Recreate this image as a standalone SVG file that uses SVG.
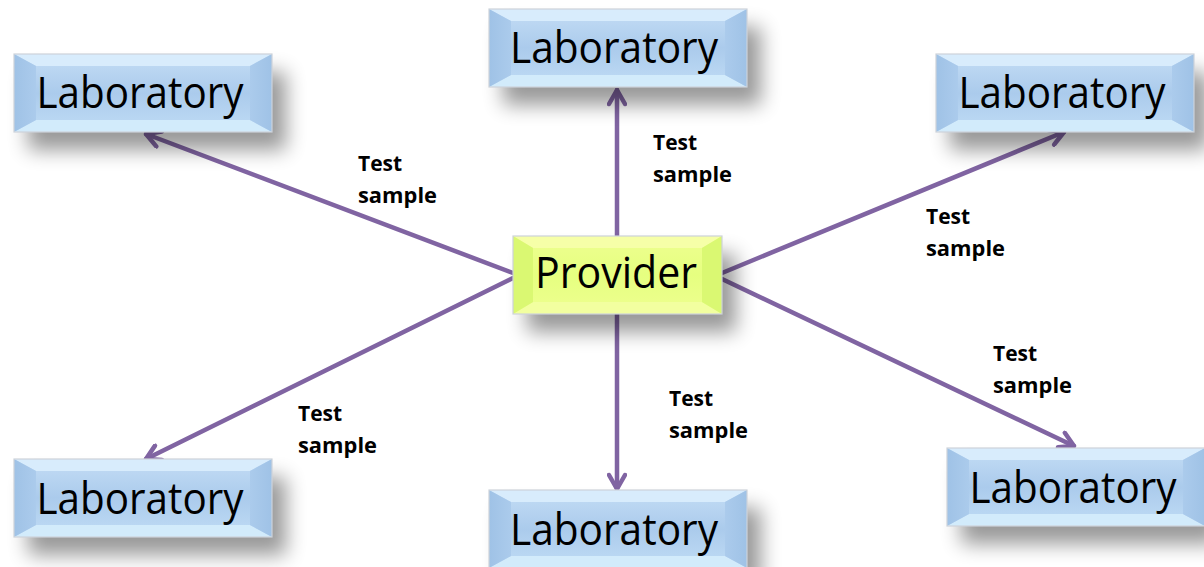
<svg xmlns="http://www.w3.org/2000/svg" width="1204" height="567" viewBox="0 0 1204 567">
<style>
.lab{font-family:"Open Sans","Noto Sans","Liberation Sans",sans-serif;font-size:43px;fill:#000;text-anchor:middle}
.lbl{font-family:"Open Sans","Noto Sans","Liberation Sans",sans-serif;font-size:21px;font-weight:bold;fill:#000}
.conn{stroke:#8064a2;stroke-width:4.5;fill:none;stroke-linecap:round}
.edge{fill:none;stroke:#cdd3da;stroke-width:1.2}
</style>
<defs>
<filter id="sh" x="-30%" y="-40%" width="170%" height="220%">
<feGaussianBlur stdDeviation="10"/>
</filter>
<linearGradient id="gb" x1="0" y1="0" x2="0" y2="1">
<stop offset="0" stop-color="#c4ddf5"/>
<stop offset="0.5" stop-color="#abcbec"/>
<stop offset="1" stop-color="#c0dcf5"/>
</linearGradient>
<linearGradient id="gy" x1="0" y1="0" x2="0" y2="1">
<stop offset="0" stop-color="#eeff90"/>
<stop offset="0.5" stop-color="#e6ff80"/>
<stop offset="1" stop-color="#eeff90"/>
</linearGradient>
<linearGradient id="gbl" x1="0" y1="0" x2="1" y2="0">
<stop offset="0" stop-color="#9fc2e6"/>
<stop offset="1" stop-color="#abcbec"/>
</linearGradient>
<linearGradient id="gbr" x1="1" y1="0" x2="0" y2="0">
<stop offset="0" stop-color="#9fc2e6"/>
<stop offset="1" stop-color="#abcbec"/>
</linearGradient>
<marker id="ah" viewBox="0 0 20 20" refX="18" refY="10" markerWidth="20" markerHeight="20" markerUnits="userSpaceOnUse" orient="auto">
<path d="M4,2 L18,10 L4,18" fill="none" stroke="#8064a2" stroke-width="4.5" stroke-linecap="round" stroke-linejoin="round"/>
</marker>
<g id="bluebox">
<rect x="14" y="18" width="258" height="78" fill="#000" opacity="0.4" filter="url(#sh)"/>
<rect x="0" y="0" width="258" height="78" fill="url(#gb)"/>
<polygon points="0,0 258,0 236,12 22,12" fill="#d8ecfc"/>
<polygon points="0,78 258,78 236,66 22,66" fill="#d2ebfb"/>
<polygon points="0,0 22,12 22,66 0,78" fill="url(#gbl)"/>
<polygon points="258,0 236,12 236,66 258,78" fill="url(#gbr)"/>
<rect x="0" y="0" width="258" height="78" class="edge"/>
</g>
</defs>

<g id="connectors">
<line class="conn" x1="617" y1="236" x2="617" y2="90" marker-end="url(#ah)"/>
<line class="conn" x1="617" y1="313" x2="617" y2="489" marker-end="url(#ah)"/>
<line class="conn" x1="513" y1="273" x2="146" y2="134" marker-end="url(#ah)"/>
<line class="conn" x1="513" y1="278" x2="146" y2="459" marker-end="url(#ah)"/>
<line class="conn" x1="722" y1="273" x2="1064" y2="132" marker-end="url(#ah)"/>
<line class="conn" x1="722" y1="279" x2="1074" y2="446" marker-end="url(#ah)"/>
</g>

<g id="lab-top"><use href="#bluebox" x="489" y="9"/><text class="lab" x="614" y="63" textLength="208" lengthAdjust="spacingAndGlyphs">Laboratory</text></g>
<g id="lab-topleft"><use href="#bluebox" x="14" y="54"/><text class="lab" x="140" y="108" textLength="207" lengthAdjust="spacingAndGlyphs">Laboratory</text></g>
<g id="lab-topright"><use href="#bluebox" x="936" y="54"/><text class="lab" x="1062" y="108" textLength="207" lengthAdjust="spacingAndGlyphs">Laboratory</text></g>
<g id="lab-bottomleft"><use href="#bluebox" x="14" y="459"/><text class="lab" x="140" y="514" textLength="207" lengthAdjust="spacingAndGlyphs">Laboratory</text></g>
<g id="lab-bottom"><use href="#bluebox" x="489" y="490"/><text class="lab" x="614" y="545" textLength="208" lengthAdjust="spacingAndGlyphs">Laboratory</text></g>
<g id="lab-bottomright"><use href="#bluebox" x="947" y="448"/><text class="lab" x="1073" y="503" textLength="207" lengthAdjust="spacingAndGlyphs">Laboratory</text></g>

<g id="provider">
<rect x="527" y="254" width="209" height="78" fill="#000" opacity="0.4" filter="url(#sh)"/>
<rect x="513" y="236" width="209" height="78" fill="url(#gy)"/>
<polygon points="513,236 722,236 702,248 533,248" fill="#f6ffa8"/>
<polygon points="513,314 722,314 702,302 533,302" fill="#f2ffa0"/>
<polygon points="513,236 533,248 533,302 513,314" fill="#daf872"/>
<polygon points="722,236 702,248 702,302 722,314" fill="#daf872"/>
<rect x="513" y="236" width="209" height="78" class="edge"/>
<text class="lab" x="616" y="288" font-size="40" textLength="162" lengthAdjust="spacingAndGlyphs">Provider</text>
</g>

<g id="labels">
<text class="lbl" x="358" y="171">Test</text><text class="lbl" x="358" y="203" textLength="79" lengthAdjust="spacingAndGlyphs">sample</text>
<text class="lbl" x="653" y="150">Test</text><text class="lbl" x="653" y="182" textLength="79" lengthAdjust="spacingAndGlyphs">sample</text>
<text class="lbl" x="926" y="224">Test</text><text class="lbl" x="926" y="256" textLength="79" lengthAdjust="spacingAndGlyphs">sample</text>
<text class="lbl" x="993" y="361">Test</text><text class="lbl" x="993" y="393" textLength="79" lengthAdjust="spacingAndGlyphs">sample</text>
<text class="lbl" x="298" y="421">Test</text><text class="lbl" x="298" y="453" textLength="79" lengthAdjust="spacingAndGlyphs">sample</text>
<text class="lbl" x="669" y="406">Test</text><text class="lbl" x="669" y="438" textLength="79" lengthAdjust="spacingAndGlyphs">sample</text>
</g>
</svg>
